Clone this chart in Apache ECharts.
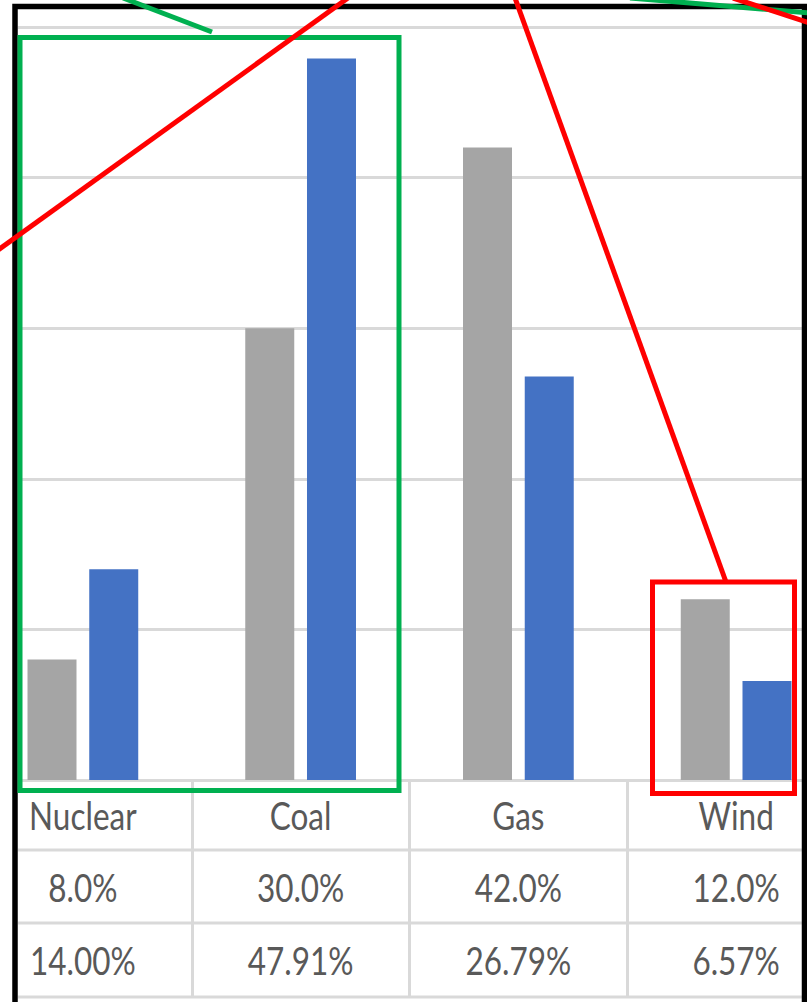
<!DOCTYPE html>
<html>
<head>
<meta charset="utf-8">
<script src="https://cdn.jsdelivr.net/npm/echarts@6/dist/echarts.min.js"></script>
<style>
  html, body { margin: 0; padding: 0; background: #ffffff; }
  #chart { width: 807px; height: 1002px; }
</style>
</head>
<body>
<div id="chart"></div>
<script>
// Energy mix: two shares per source, shown as grouped bars with a data table underneath
const categories = ['Nuclear', 'Coal', 'Gas', 'Wind'];
const shareA = [8.0, 30.0, 42.0, 12.0];      // grey bars, table row 1
const shareB = [14.00, 47.91, 26.79, 6.57];  // blue bars, table row 2
const axisMin = 0;
const axisMax = 50;
const axisStep = 10;

const GREY = '#a5a5a5';
const BLUE = '#4472c4';
const GRID_LINE = '#d9d9d9';
const TEXT = '#595959';
const FONT = 'Lato, "Open Sans", sans-serif';

// table row centres (px) and the narrow-tall look of the table text
const ROW_Y = [815, 886.5, 959.5];
const TEXT_SIZE = 31.5;
const TEXT_STRETCH = 1.22;

const chart = echarts.init(document.getElementById('chart'), null, { renderer: 'svg' });

// Table lines and callout annotations
const line = (x1, y1, x2, y2, color, width, z) => ({
  type: 'line', z: z, silent: true,
  shape: { x1, y1, x2, y2 },
  style: { stroke: color, lineWidth: width }
});
const rect = (x, y, w, h, color, width, z) => ({
  type: 'rect', z: z, silent: true,
  shape: { x, y, width: w, height: h },
  style: { fill: 'none', stroke: color, lineWidth: width }
});

// one column of the data table: category name, then both shares
function renderTableColumn(params, api) {
  const idx = api.value(0);
  const x = api.coord([idx, 0])[0];
  const texts = [
    categories[idx],
    shareA[idx].toFixed(1) + '%',
    shareB[idx].toFixed(2) + '%'
  ];
  return {
    type: 'group',
    children: texts.map((t, r) => ({
      type: 'text',
      x: x,
      y: ROW_Y[r],
      scaleY: TEXT_STRETCH,
      style: {
        text: t,
        fill: TEXT,
        font: TEXT_SIZE + 'px ' + FONT,
        align: 'center',
        verticalAlign: 'middle'
      }
    }))
  };
}

const option = {
  backgroundColor: '#ffffff',
  animation: false,
  grid: [
    // bars + table; the table continues past both edges of the view
    { left: -26, width: 871, top: 27, height: 753, outerBoundsMode: 'none', containLabel: false },
    // horizontal gridlines, limited to the frame
    { left: 18, right: 4, top: 27, height: 753, outerBoundsMode: 'none' }
  ],
  xAxis: [
    {
      type: 'category', gridIndex: 0, data: categories,
      axisLine: { show: false },
      axisTick: { show: true, length: 217, lineStyle: { color: GRID_LINE, width: 3 } },
      axisLabel: { show: false }
    },
    { type: 'category', gridIndex: 1, data: categories, show: false }
  ],
  yAxis: [
    {
      type: 'value', gridIndex: 0, min: axisMin, max: axisMax, interval: axisStep,
      axisLabel: { show: false }, axisLine: { show: false }, axisTick: { show: false },
      splitLine: { show: false }
    },
    {
      type: 'value', gridIndex: 1, min: axisMin, max: axisMax, interval: axisStep,
      axisLabel: { show: false }, axisLine: { show: false }, axisTick: { show: false },
      splitLine: { show: true, lineStyle: { color: GRID_LINE, width: 3 } }
    }
  ],
  series: [
    {
      type: 'bar', xAxisIndex: 0, yAxisIndex: 0, data: shareA,
      barWidth: 49, barGap: '26%', itemStyle: { color: GREY }, z: 3
    },
    {
      type: 'bar', xAxisIndex: 0, yAxisIndex: 0, data: shareB,
      barWidth: 49, barGap: '26%', itemStyle: { color: BLUE }, z: 3
    },
    {
      type: 'custom', xAxisIndex: 0, yAxisIndex: 0, clip: false, silent: true,
      data: categories.map((c, i) => [i]),
      encode: { x: 0 },
      renderItem: renderTableColumn,
      z: 4
    }
  ],
  graphic: [
    // table row separators
    line(18, 850, 803, 850, GRID_LINE, 3, 1),
    line(18, 923, 803, 923, GRID_LINE, 3, 1),
    line(18, 997, 803, 997, GRID_LINE, 3, 1),
    // outer black frame
    rect(15, 6.5, 789.5, 1010, '#000000', 5.5, 10),
    // green callout
    rect(20, 37.5, 379, 753, '#00b050', 5, 11),
    line(123, -2, 212, 32, '#00b050', 5, 11),
    line(630, -2, 810, 13, '#00b050', 5, 11),
    // red callout
    rect(652.5, 582, 142, 211.5, '#ff0000', 5, 12),
    line(-2, 250, 348, -2, '#ff0000', 5, 12),
    line(515, -2, 726, 582, '#ff0000', 5, 12),
    line(733, -2, 810, 23, '#ff0000', 5, 12)
  ]
};

chart.setOption(option);
</script>
</body>
</html>
